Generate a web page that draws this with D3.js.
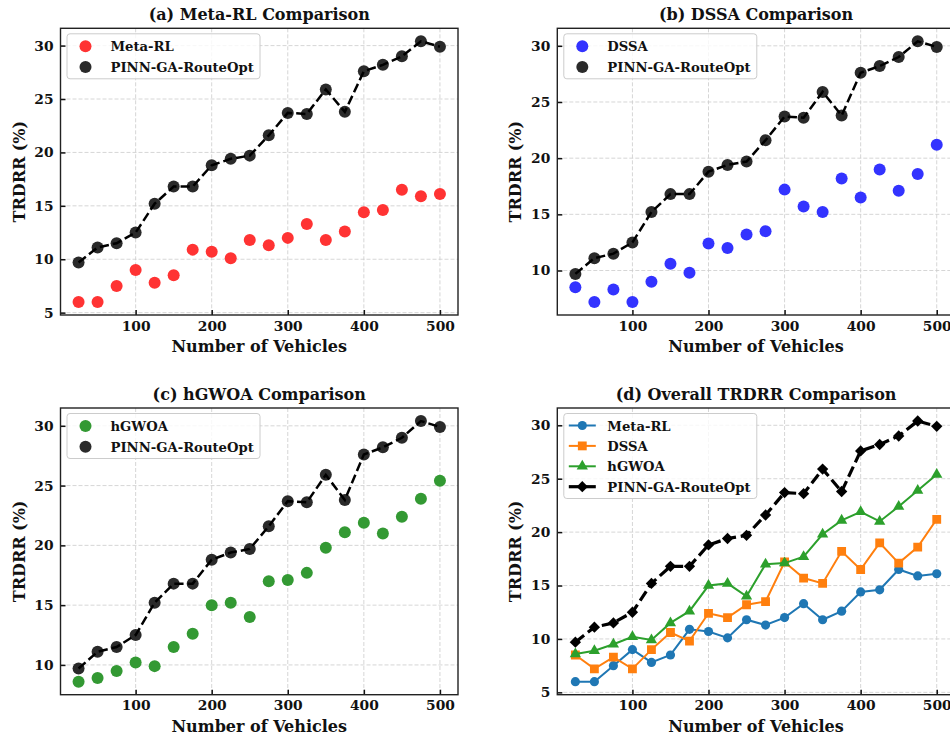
<!DOCTYPE html>
<html><head><meta charset="utf-8">
<script src="https://cdn.jsdelivr.net/npm/d3@7"></script>
<style>
body{margin:0;background:#fff;}
svg text{font-family:"DejaVu Serif",serif;font-weight:bold;fill:#111;}
</style></head>
<body><svg id="chart" width="950" height="740"></svg>
<script>
const vehicles = [25,50,75,100,125,150,175,200,225,250,275,300,325,350,375,400,425,450,475,500];
const metaRL = [6.0,6.0,7.5,9.0,7.8,8.5,10.9,10.7,10.1,11.8,11.3,12.0,13.3,11.8,12.6,14.4,14.6,16.5,15.9,16.1];
const dssa   = [8.5,7.2,8.3,7.2,9.0,10.6,9.8,12.4,12.0,13.2,13.5,17.2,15.7,15.2,18.2,16.5,19.0,17.1,18.6,21.2];
const hgwoa  = [8.6,8.9,9.5,10.2,9.9,11.5,12.6,15.0,15.2,14.0,17.0,17.1,17.7,19.8,21.1,21.9,21.0,22.4,23.9,25.4];
const pinn   = [9.7,11.1,11.5,12.5,15.2,16.8,16.8,18.8,19.4,19.7,21.6,23.7,23.6,25.9,23.8,27.6,28.2,29.0,30.4,29.9];
const xTicks = [100,200,300,400,500];
const yTicks = [5,10,15,20,25,30];
const titles = ["(a) Meta-RL Comparison","(b) DSSA Comparison","(c) hGWOA Comparison","(d) Overall TRDRR Comparison"];
const xLabel = "Number of Vehicles";
const yLabel = "TRDRR (%)";

const svg = d3.select("#chart");
const W = 397.5, H = 286.7;
const panels = [
  {x:60.5, y:28.3, title:titles[0], kind:"single", name:"Meta-RL", data:metaRL, color:"#ff3333"},
  {x:557.3, y:28.3, title:titles[1], kind:"single", name:"DSSA", data:dssa, color:"#3333ff"},
  {x:60.5, y:408, title:titles[2], kind:"single", name:"hGWOA", data:hgwoa, color:"#339933"},
  {x:557.3, y:408, title:titles[3], kind:"all"}
];

function pad(ext){const r=ext[1]-ext[0];return [ext[0]-0.05*r, ext[1]+0.05*r];}
// matplotlib-style 'D' marker: square rotated 45 degrees
const diamondSym = {draw(ctx,size){const r=Math.sqrt(size/2);
  ctx.moveTo(0,-r);ctx.lineTo(r,0);ctx.lineTo(0,r);ctx.lineTo(-r,0);ctx.closePath();}};

panels.forEach(p=>{
  const g = svg.append("g").attr("transform",`translate(${p.x},${p.y})`);
  const xs = d3.scaleLinear().domain(pad(d3.extent(vehicles))).range([0,W]);
  const all = p.kind==="single" ? p.data.concat(pinn) : metaRL.concat(dssa,hgwoa,pinn);
  const ys = d3.scaleLinear().domain(pad(d3.extent(all))).range([H,0]);
  const yt = yTicks.filter(v=>v>=ys.domain()[0]&&v<=ys.domain()[1]);

  const clipId = "clip"+p.title.charAt(1);
  g.append("clipPath").attr("id",clipId).append("rect").attr("width",W).attr("height",H);

  // grid
  const grid = g.append("g").attr("stroke","#cbcbcb").attr("stroke-width",0.8).attr("stroke-dasharray","4,2");
  grid.selectAll(".gx").data(xTicks).join("line").attr("x1",d=>xs(d)).attr("x2",d=>xs(d)).attr("y1",0).attr("y2",H);
  grid.selectAll(".gy").data(yt).join("line").attr("y1",d=>ys(d)).attr("y2",d=>ys(d)).attr("x1",0).attr("x2",W);

  const plot = g.append("g").attr("clip-path",`url(#${clipId})`);
  const line = d3.line().x((d,i)=>xs(vehicles[i])).y(d=>ys(d));

  if(p.kind==="single"){
    plot.append("g").selectAll("circle").data(p.data).join("circle")
      .attr("cx",(d,i)=>xs(vehicles[i])).attr("cy",d=>ys(d)).attr("r",6).attr("fill",p.color);
    plot.append("g").selectAll("circle").data(pinn).join("circle")
      .attr("cx",(d,i)=>xs(vehicles[i])).attr("cy",d=>ys(d)).attr("r",6).attr("fill","#2a2a2a");
    plot.append("path").datum(pinn).attr("d",line).attr("fill","none").attr("stroke","#000")
      .attr("stroke-width",2.5).attr("stroke-dasharray","9.25,4");
  } else {
    const series = [
      {name:"Meta-RL", data:metaRL, color:"#1f77b4", sym:d3.symbolCircle, size:66},
      {name:"DSSA", data:dssa, color:"#ff7f0e", sym:d3.symbolSquare, size:78},
      {name:"hGWOA", data:hgwoa, color:"#2ca02c", sym:d3.symbolTriangle, size:55},
      {name:"PINN-GA-RouteOpt", data:pinn, color:"#000000", sym:diamondSym, size:64, dash:"11.1,4.8", lw:3.2}
    ];
    p.series = series;
    series.forEach(s=>{
      plot.append("path").datum(s.data).attr("d",line).attr("fill","none").attr("stroke",s.color)
        .attr("stroke-width",s.lw||2).attr("stroke-dasharray",s.dash||null);
      plot.append("g").selectAll("path").data(s.data).join("path")
        .attr("transform",(d,i)=>`translate(${xs(vehicles[i])},${ys(d)})`)
        .attr("d",d3.symbol(s.sym,s.size)).attr("fill",s.color);
    });
  }

  // axes
  const ax = g.append("g").attr("transform",`translate(0,${H})`)
    .call(d3.axisBottom(xs).tickValues(xTicks).tickSize(-5).tickPadding(6).tickSizeOuter(0));
  const ay = g.append("g")
    .call(d3.axisLeft(ys).tickValues(yt).tickSize(-5).tickPadding(7).tickSizeOuter(0));
  [ax,ay].forEach(a=>{
    a.select(".domain").remove();
    a.selectAll("line").attr("stroke","#111").attr("stroke-width",1.5);
    a.selectAll("text").attr("font-size",13.8).attr("font-family","DejaVu Serif").attr("font-weight","bold").attr("fill","#111");
  });
  // spines
  g.append("rect").attr("width",W).attr("height",H).attr("fill","none").attr("stroke","#222").attr("stroke-width",1.4);

  // titles / labels
  g.append("text").attr("x",W/2).attr("y",-8).attr("text-anchor","middle").attr("font-size",16).text(p.title);
  g.append("text").attr("x",W/2).attr("y",H+37).attr("text-anchor","middle").attr("font-size",16).text(xLabel);
  g.append("text").attr("transform",`translate(${-36},${H/2}) rotate(-90)`).attr("text-anchor","middle")
    .attr("font-size",16).text(yLabel);

  // legend
  const leg = g.append("g").attr("transform","translate(6.5,5.5)");
  if(p.kind==="single"){
    leg.append("rect").attr("width",193).attr("height",45).attr("rx",3).attr("fill","#fff").attr("fill-opacity",0.8)
      .attr("stroke","#cccccc").attr("stroke-width",1);
    const items=[{name:p.name,color:p.color},{name:"PINN-GA-RouteOpt",color:"#2a2a2a"}];
    items.forEach((it,i)=>{
      const cy = 12.5+i*20.7;
      leg.append("circle").attr("cx",18.5).attr("cy",cy).attr("r",6).attr("fill",it.color);
      leg.append("text").attr("x",43.5).attr("y",cy+5).attr("font-size",13.2).text(it.name);
    });
  } else {
    leg.append("rect").attr("width",193).attr("height",85).attr("rx",3).attr("fill","#fff").attr("fill-opacity",0.8)
      .attr("stroke","#cccccc").attr("stroke-width",1);
    p.series.forEach((s,i)=>{
      const cy = 12+i*20.4;
      leg.append("line").attr("x1",5).attr("x2",32).attr("y1",cy).attr("y2",cy).attr("stroke",s.color).attr("stroke-width",s.lw||2);
      leg.append("path").attr("transform",`translate(18.5,${cy})`).attr("d",d3.symbol(s.sym,s.size)).attr("fill",s.color);
      leg.append("text").attr("x",43.5).attr("y",cy+5).attr("font-size",13.2).text(s.name);
    });
  }
});
</script></body></html>
